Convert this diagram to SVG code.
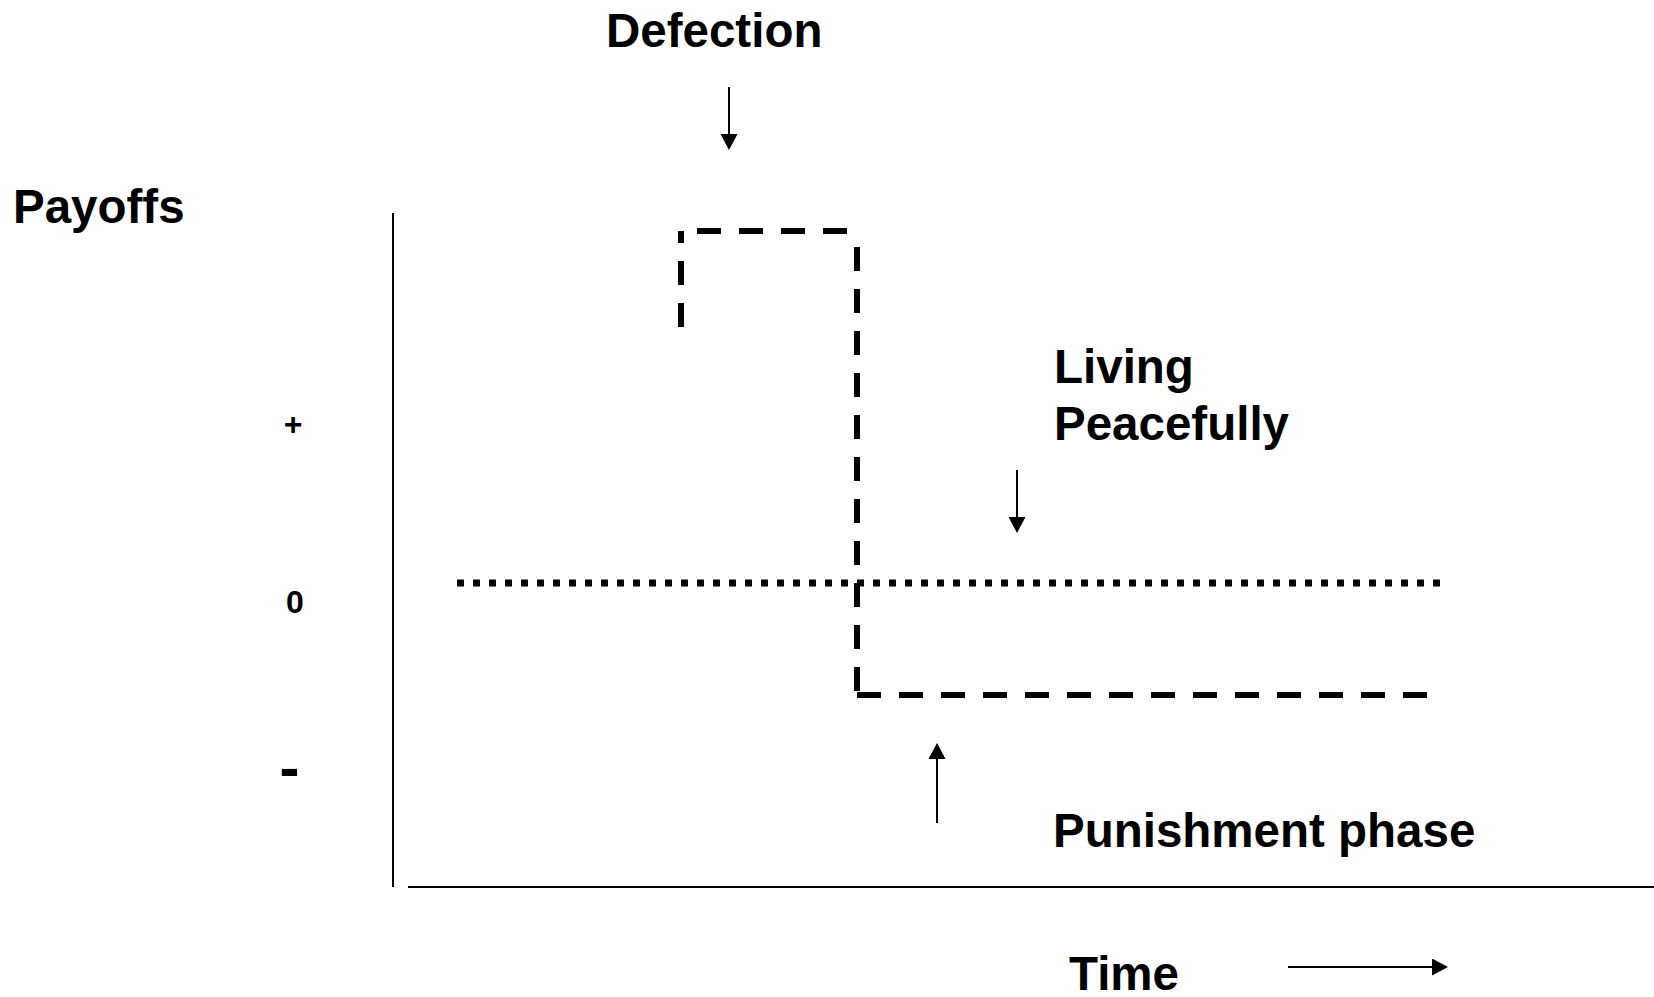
<svg xmlns="http://www.w3.org/2000/svg" width="1654" height="997" viewBox="0 0 1654 997">
<style>
text{font-family:"Liberation Sans",Arial,sans-serif;font-weight:bold;fill:#000}
.lbl{font-size:47.5px}
.axis{stroke:#000;stroke-width:2;fill:none}
.dash{stroke:#000;stroke-width:6;stroke-dasharray:24 18;fill:none}
.dot{stroke:#000;stroke-width:7;stroke-dasharray:7 9;fill:none}
.arr{stroke:#000;stroke-width:2;fill:none;marker-end:url(#ah)}
</style>
<defs>
<marker id="ah" markerUnits="userSpaceOnUse" markerWidth="17" markerHeight="17" refX="1" refY="8.5" orient="auto">
<path d="M0,0 L16,8.5 L0,17 z" fill="#000"/>
</marker>
</defs>
<rect width="1654" height="997" fill="#fff"/>
<g id="axes">
<line class="axis" x1="393" y1="213" x2="393" y2="887"/>
<line class="axis" x1="408" y1="887" x2="1654" y2="887"/>
</g>
<g id="payoff-path">
<line class="dash" x1="681" y1="327" x2="681" y2="231"/>
<line class="dash" x1="697" y1="231" x2="857" y2="231"/>
<line class="dash" x1="857" y1="247" x2="857" y2="695"/>
<line class="dash" x1="857" y1="695" x2="1427" y2="695"/>
</g>
<g id="zero-line">
<line class="dot" x1="457" y1="583" x2="1441" y2="583"/>
</g>
<g id="connectors">
<line class="arr" x1="729" y1="87" x2="729" y2="135"/>
<line class="arr" x1="1017" y1="470" x2="1017" y2="518"/>
<line class="arr" x1="937" y1="823" x2="937" y2="758"/>
<line class="arr" x1="1288" y1="967" x2="1433" y2="967"/>
</g>
<g id="defection"><text class="lbl" x="606" y="47">Defection</text></g>
<g id="payoffs"><text class="lbl" x="13" y="223">Payoffs</text></g>
<g id="living"><text class="lbl" x="1054" y="383">Living</text><text class="lbl" x="1054" y="440">Peacefully</text></g>
<g id="punishment"><text class="lbl" x="1053" y="847">Punishment phase</text></g>
<g id="time"><text class="lbl" x="1069" y="990">Time</text></g>
<g id="ticks">
<text x="293" y="435" font-size="32" text-anchor="middle">+</text>
<text x="295" y="613" font-size="32" text-anchor="middle">0</text>
<text x="289.5" y="788" font-size="60" text-anchor="middle">-</text>
</g>
</svg>
